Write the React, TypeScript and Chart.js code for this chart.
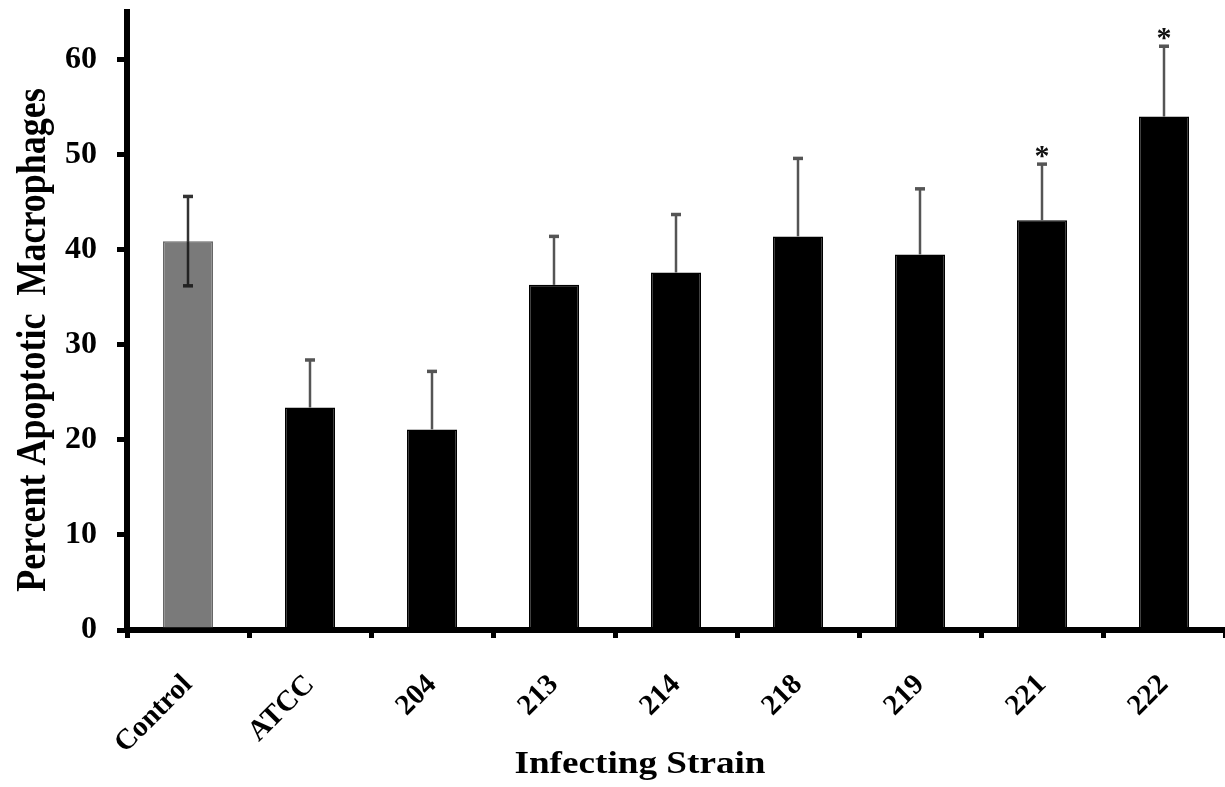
import React, { useEffect, useRef } from "react";
import { Chart, registerables } from "chart.js";

Chart.register(...registerables);

const strains = ["Control", "ATCC", "204", "213", "214", "218", "219", "221", "222"];
const meanPercent = [40.9, 23.4, 21.1, 36.3, 37.6, 41.4, 39.5, 43.1, 54.0];
const errPercent = [4.7, 5.0, 6.1, 5.1, 6.1, 8.2, 6.9, 5.9, 7.4];
const significant = [false, false, false, false, false, false, false, true, true];
const barColors = ["#7a7a7a", "#000", "#000", "#000", "#000", "#000", "#000", "#000", "#000"];
const yTickValues = [0, 10, 20, 30, 40, 50, 60];
const xTitle = "Infecting Strain";
const yTitle = "Percent Apoptotic  Macrophages";

const FONT = "'Liberation Serif', 'Times New Roman', serif";

const errorBarPlugin = {
  id: "errorBars",
  afterDatasetsDraw(chart: any) {
    const ctx = chart.ctx;
    const meta = chart.getDatasetMeta(0);
    const y = chart.scales.y;
    ctx.save();
    meta.data.forEach((bar: any, i: number) => {
      const x = bar.x;
      const top = y.getPixelForValue(meanPercent[i] + errPercent[i]);
      const bottom = y.getPixelForValue(meanPercent[i] - errPercent[i]);
      const mid = y.getPixelForValue(meanPercent[i]);
      const cap = 5;
      ctx.strokeStyle = i === 0 ? "#333" : "#555";
      ctx.lineWidth = 2.5;
      ctx.beginPath();
      ctx.moveTo(x, mid);
      ctx.lineTo(x, top);
      ctx.stroke();
      ctx.lineWidth = 3.5;
      ctx.beginPath();
      ctx.moveTo(x - cap, top);
      ctx.lineTo(x + cap, top);
      ctx.stroke();
      // lower arm: only visible where the bar is not black
      if (barColors[i] !== "#000") {
        ctx.strokeStyle = "#222";
        ctx.lineWidth = 2.5;
        ctx.beginPath();
        ctx.moveTo(x, mid);
        ctx.lineTo(x, bottom);
        ctx.stroke();
        ctx.lineWidth = 3.5;
        ctx.beginPath();
        ctx.moveTo(x - cap, bottom);
        ctx.lineTo(x + cap, bottom);
        ctx.stroke();
      }
      if (significant[i]) {
        ctx.fillStyle = "#111";
        ctx.font = `bold 30px ${FONT}`;
        ctx.textAlign = "center";
        ctx.textBaseline = "alphabetic";
        ctx.fillText("*", x, top + 1);
      }
    });
    ctx.restore();
  },
};

const titlesPlugin = {
  id: "axisTitles",
  afterDraw(chart: any) {
    const ctx = chart.ctx;
    ctx.save();
    ctx.fillStyle = "#000";
    ctx.textAlign = "center";
    ctx.textBaseline = "middle";
    ctx.font = `bold 31px ${FONT}`;
    ctx.translate(640, 765);
    ctx.scale(1.2, 1);
    ctx.fillText(xTitle, 0, 0);
    ctx.restore();
    ctx.save();
    ctx.fillStyle = "#000";
    ctx.textAlign = "center";
    ctx.textBaseline = "middle";
    ctx.font = `bold 36px ${FONT}`;
    ctx.translate(34, 340);
    ctx.scale(1.15, 1);
    ctx.rotate(-Math.PI / 2);
    ctx.fillText(yTitle, 0, 0);
    ctx.restore();
  },
};

export default function App() {
  const ref = useRef<HTMLCanvasElement | null>(null);
  useEffect(() => {
    document.body.style.margin = "0";
    document.body.style.background = "#fff";
    const canvas = ref.current!;
    const chart = new Chart(canvas, {
      type: "bar",
      data: {
        labels: strains,
        datasets: [
          {
            data: meanPercent,
            backgroundColor: barColors,
            borderColor: barColors.map((c) => (c === "#000" ? "#000" : "#666")),
            borderWidth: 1.5,
            categoryPercentage: 1,
            barPercentage: 0.41,
          },
        ],
      },
      options: {
        animation: false,
        responsive: false,
        devicePixelRatio: 1,
        plugins: { legend: { display: false }, tooltip: { enabled: false } },
        layout: { padding: { left: 6, right: 0, top: 12, bottom: 0 } },
        scales: {
          x: {
            offset: true,
            grid: {
              display: true,
              offset: true,
              drawOnChartArea: false,
              drawTicks: true,
              tickLength: 8,
              lineWidth: 5,
              color: "#000",
            },
            border: { display: true, width: 6, color: "#000" },
            ticks: {
              color: "#000",
              font: { family: FONT, size: 29, weight: "bold" },
              maxRotation: 45,
              minRotation: 45,
              padding: 30,
            },
            title: { display: false },
            afterFit: (s: any) => {
              s.height = 787 - 630;
              s.paddingLeft = 0;
              s.paddingRight = 0;
            },
          },
          y: {
            min: 0,
            max: 65,
            ticks: {
              stepSize: 10,
              color: "#000",
              font: { family: FONT, size: 32, weight: "bold" },
              padding: 20,
            },
            afterBuildTicks: (axis: any) => {
              axis.ticks = yTickValues.map((v) => ({ value: v }));
            },
            grid: {
              display: true,
              drawOnChartArea: false,
              drawTicks: true,
              tickLength: 10,
              lineWidth: 5,
              color: "#000",
            },
            border: { display: true, width: 6, color: "#000" },
            title: { display: false },
            afterFit: (s: any) => {
              s.width = 121;
              s.paddingTop = 0;
              s.paddingBottom = 0;
            },
          },
        },
      },
      plugins: [errorBarPlugin, titlesPlugin],
    });
    return () => chart.destroy();
  }, []);
  return (
    <div style={{ width: 1225, height: 787, background: "#fff" }}>
      <canvas ref={ref} width={1225} height={787} style={{ display: "block", width: 1225, height: 787 }} />
    </div>
  );
}
